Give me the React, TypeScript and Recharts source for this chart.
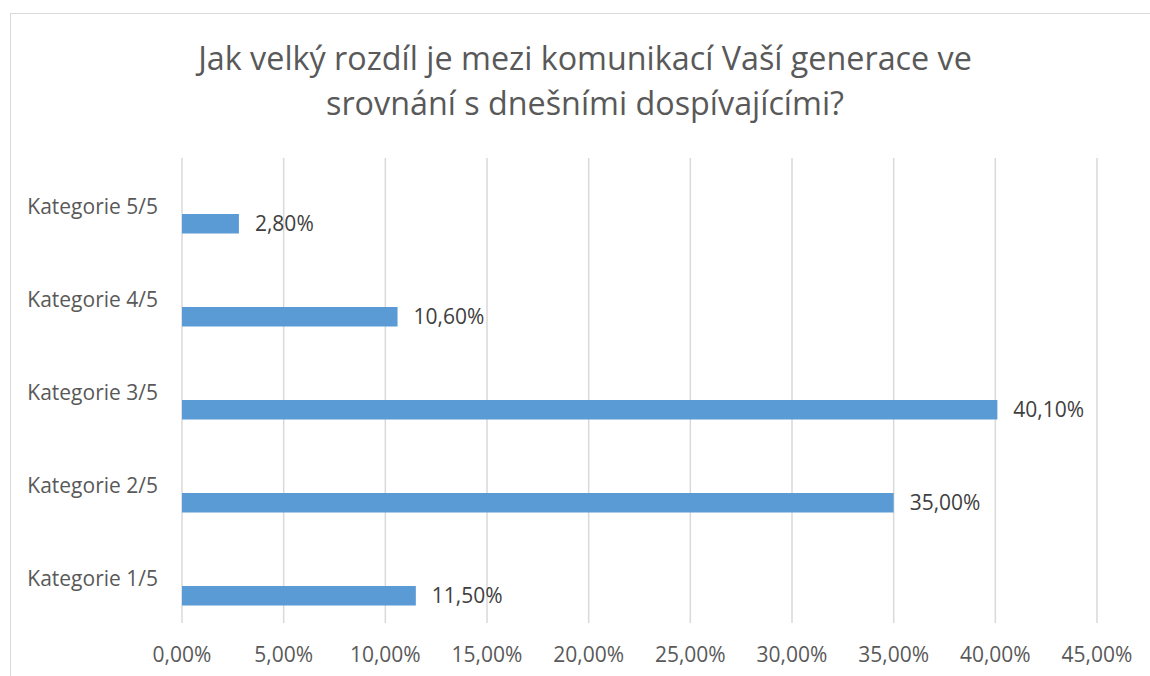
import { BarChart, Bar, XAxis, YAxis, CartesianGrid, LabelList } from "recharts";

const categories = ["Kategorie 1/5", "Kategorie 2/5", "Kategorie 3/5", "Kategorie 4/5", "Kategorie 5/5"];
const shares = [11.5, 35.0, 40.1, 10.6, 2.8];
// the source sheet had two empty series next to the real one, which pushes the bar down in each band
const emptyA = [null, null, null, null, null];
const emptyB = [null, null, null, null, null];
const xTicks = [0, 5, 10, 15, 20, 25, 30, 35, 40, 45];

const data = categories.map((name, i) => ({
  name,
  a: emptyA[i],
  b: emptyB[i],
  value: shares[i],
}));

const pct = (v: number) => v.toFixed(2).replace(".", ",") + "%";

const FONT = "'Open Sans', sans-serif";

export default function App() {
  return (
    <div
      style={{
        position: "absolute",
        left: 0,
        top: 0,
        width: 1150,
        height: 676,
        overflow: "hidden",
        background: "#fff",
        fontFamily: FONT,
      }}
    >
      <div
        style={{
          position: "absolute",
          left: 10,
          top: 13,
          width: 1170,
          height: 700,
          borderLeft: "1.5px solid #d9d9d9",
          borderTop: "1.5px solid #d9d9d9",
        }}
      />
      <div
        style={{
          position: "absolute",
          left: 10,
          top: 35,
          width: 1150,
          textAlign: "center",
          fontSize: 32.3,
          lineHeight: "45px",
          color: "#595959",
        }}
      >
        Jak velký rozdíl je mezi komunikací Vaší generace ve
        <br />
        srovnání s dnešními dospívajícími?
      </div>
      <div style={{ position: "absolute", left: 0, top: 0 }}>
        <BarChart
          width={1150}
          height={676}
          data={data}
          layout="vertical"
          margin={{ top: 158, right: 53, left: 0, bottom: 0 }}
          barSize={19.5}
          barGap={0}
        >
          <CartesianGrid horizontal={false} stroke="#d9d9d9" strokeWidth={1.5} />
          <XAxis
            type="number"
            domain={[0, 45]}
            ticks={xTicks}
            tickFormatter={pct}
            axisLine={false}
            tickLine={false}
            tickSize={0}
            tickMargin={24}
            height={53}
            interval={0}
            tick={{ fill: "#595959", fontSize: 21, fontFamily: FONT }}
          />
          <YAxis
            type="category"
            dataKey="name"
            reversed
            width={182}
            axisLine={false}
            tickLine={false}
            tickSize={0}
            tickMargin={24}
            tick={{ fill: "#595959", fontSize: 21, fontFamily: FONT, dy: 2 }}
          />
          <Bar dataKey="a" fill="#5b9bd5" isAnimationActive={false} />
          <Bar dataKey="b" fill="#5b9bd5" isAnimationActive={false} />
          <Bar dataKey="value" fill="#5b9bd5" isAnimationActive={false}>
            <LabelList
              dataKey="value"
              position="right"
              offset={16}
              formatter={(v: number) => pct(v)}
              fill="#404040"
              fontSize={21}
              fontFamily={FONT}
            />
          </Bar>
        </BarChart>
      </div>
    </div>
  );
}
